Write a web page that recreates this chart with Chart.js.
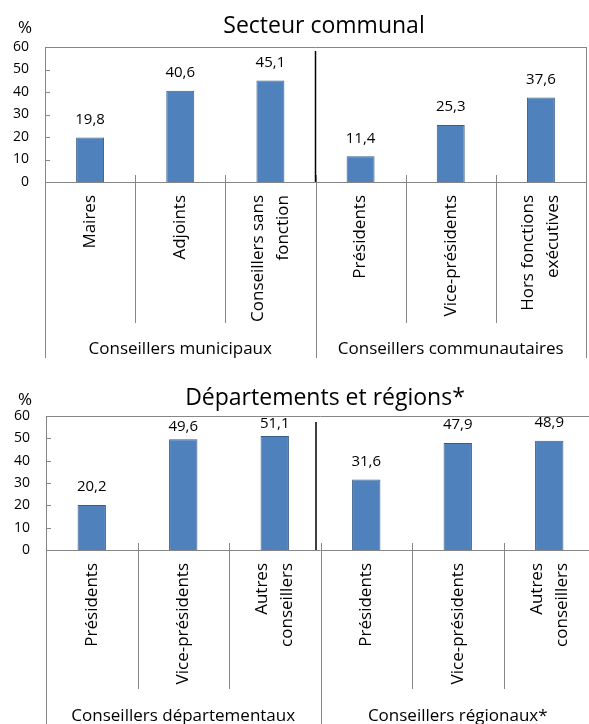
<!DOCTYPE html>
<html>
<head>
<meta charset="utf-8">
<script src="https://cdn.jsdelivr.net/npm/chart.js@4.4.1/dist/chart.umd.min.js"></script>
<style>
html, body { margin: 0; padding: 0; background: #fff; overflow: hidden; }
#wrap { position: relative; width: 589px; height: 724px; overflow: hidden; }
#c1 { position: absolute; left: 0; top: 0; }
#c2 { position: absolute; left: 0; top: 362px; }
</style>
</head>
<body>
<div id="wrap">
  <canvas id="c1" width="589" height="362"></canvas>
  <canvas id="c2" width="600" height="362"></canvas>
</div>
<script>
// --- data ---
const title1 = "Secteur communal";
const labels1 = [["Maires"], ["Adjoints"], ["Conseillers sans", "fonction"],
                 ["Présidents"], ["Vice-présidents"], ["Hors fonctions", "exécutives"]];
const values1 = [19.8, 40.6, 45.1, 11.4, 25.3, 37.6];
const groups1 = ["Conseillers municipaux", "Conseillers communautaires"];

const title2 = "Départements et régions*";
const labels2 = [["Présidents"], ["Vice-présidents"], ["Autres", "conseillers"],
                 ["Présidents"], ["Vice-présidents"], ["Autres", "conseillers"]];
const values2 = [20.2, 49.6, 51.1, 31.6, 47.9, 48.9];
const groups2 = ["Conseillers départementaux", "Conseillers régionaux*"];

const yTicks = [0, 10, 20, 30, 40, 50, 60];
const unit = "%";

const FONT = "'Open Sans', sans-serif";
const LINE = "#868686";

Chart.defaults.font.family = FONT;
Chart.defaults.color = "#000";

const fmt = v => v.toFixed(1).replace(".", ",");

// axis box, separators, labels and titles
const decor = {
    id: "decor",
    afterDraw(chart, args, o) {
        const ctx = chart.ctx;
        const a = chart.chartArea;
        const xs = chart.scales.x, ys = chart.scales.y;
        const n = chart.data.labels.length;
        const px = v => Math.round(v) + 0.5;
        const y0 = ys.getPixelForValue(0);
        const yTop = ys.getPixelForValue(yTicks[yTicks.length - 1]);
        const edge = i => xs.getPixelForValue(i - 0.5);
        const minorEnd = y0 + o.minorDrop;
        const groupEnd = y0 + o.groupDrop;
        const seg = (x1, y1, x2, y2) => {
            ctx.beginPath(); ctx.moveTo(x1, y1); ctx.lineTo(x2, y2); ctx.stroke();
        };

        ctx.save();
        ctx.strokeStyle = LINE;
        ctx.lineWidth = 1;
        seg(a.left, px(yTop), a.right, px(yTop));
        seg(px(a.left), yTop, px(a.left), groupEnd);
        seg(px(a.right), yTop, px(a.right), groupEnd);
        seg(a.left, px(y0), a.right, px(y0));
        yTicks.forEach(v => {
            const yy = px(ys.getPixelForValue(v));
            seg(a.left, yy, a.left + 5, yy);
        });
        for (let i = 1; i < n; i++) {
            const ex = px(edge(i));
            seg(ex, y0 - 7, ex, i % 3 === 0 ? groupEnd : minorEnd);
        }

        // black divider between the two groups
        ctx.strokeStyle = "#000";
        ctx.lineWidth = 1.5;
        const dx = edge(n / 2) + o.dividerShift;
        seg(dx, yTop + o.dividerTop, dx, y0);

        ctx.fillStyle = "#000";

        // value labels
        const meta = chart.getDatasetMeta(0);
        ctx.font = `15px ${FONT}`;
        ctx.textAlign = "center";
        ctx.textBaseline = "middle";
        meta.data.forEach((bar, i) => {
            let ly = bar.y - 18;
            if (ly < yTop + 6) ly = bar.y - 12;
            ctx.fillText(fmt(chart.data.datasets[0].data[i]), bar.x, ly);
        });

        // category labels, rotated
        ctx.font = `17px ${FONT}`;
        chart.data.labels.forEach((lines, i) => {
            const cx = xs.getPixelForValue(i);
            ctx.save();
            ctx.translate(cx, y0 + 13);
            ctx.rotate(-Math.PI / 2);
            ctx.textAlign = "right";
            ctx.textBaseline = "middle";
            lines.forEach((t, k) => ctx.fillText(t, 0, (k - (lines.length - 1) / 2) * 25));
            ctx.restore();
        });

        // group labels
        ctx.textAlign = "center";
        ctx.textBaseline = "middle";
        o.groups.forEach((g, k) => {
            const gx = (edge(k * 3) + edge(k * 3 + 3)) / 2;
            ctx.fillText(g, gx, y0 + o.groupLabelDrop);
        });

        // title and unit
        ctx.textBaseline = "alphabetic";
        ctx.font = `23px ${FONT}`;
        ctx.fillText(o.title, o.titleX, o.titleY);
        ctx.font = `17px ${FONT}`;
        ctx.textAlign = "left";
        ctx.fillText(unit, 18, o.titleY);
        ctx.restore();
    }
};

function build(id, labels, values, padding, yWidth, decorOpts) {
    return new Chart(document.getElementById(id), {
        type: "bar",
        data: {
            labels: labels,
            datasets: [{
                data: values,
                backgroundColor: "#4F81BD",
                borderColor: "#385D8A",
                borderWidth: 1,
                barPercentage: 0.31,
                categoryPercentage: 1
            }]
        },
        options: {
            responsive: false,
            animation: false,
            layout: { padding: padding },
            plugins: {
                legend: { display: false },
                tooltip: { enabled: false },
                decor: decorOpts
            },
            scales: {
                x: { display: false },
                y: {
                    min: 0,
                    max: 60,
                    afterFit: s => { s.width = yWidth; },
                    afterBuildTicks: s => { s.ticks = yTicks.map(v => ({ value: v })); },
                    grid: { display: false, drawTicks: false },
                    border: { display: false },
                    ticks: { padding: 16, font: { size: 14 }, color: "#000" }
                }
            }
        },
        plugins: [decor]
    });
}

build("c1", labels1, values1, { top: 47, right: 3, bottom: 180, left: 0 }, 45, {
    title: title1, groups: groups1, titleX: 324, titleY: 33,
    minorDrop: 141, groupDrop: 176, groupLabelDrop: 167,
    dividerTop: 4, dividerShift: 0
});

build("c2", labels2, values2, { top: 54, right: 5, bottom: 174, left: 0 }, 46, {
    title: title2, groups: groups2, titleX: 325, titleY: 43,
    minorDrop: 139, groupDrop: 180, groupLabelDrop: 166,
    dividerTop: 6, dividerShift: -4.5
});
</script>
</body>
</html>
